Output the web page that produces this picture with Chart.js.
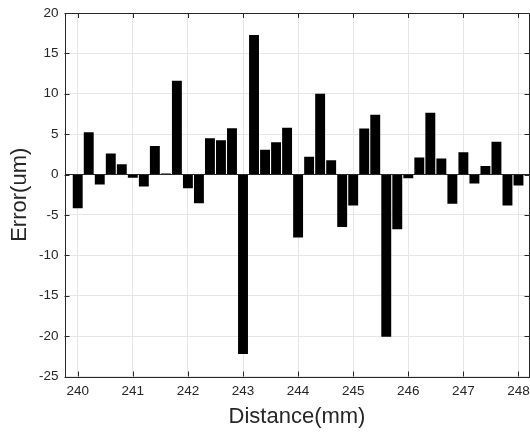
<!DOCTYPE html>
<html>
<head>
<meta charset="utf-8">
<script src="https://cdn.jsdelivr.net/npm/chart.js@4/dist/chart.umd.min.js"></script>
<style>
  html, body { margin: 0; padding: 0; background: #fff; }
  #wrap { width: 530px; height: 433px; }
</style>
</head>
<body>
<div id="wrap"><canvas id="err_chart"></canvas></div>
<script>
// measured positions (mm) and error at each one (um)
var distance = [240.0, 240.2, 240.4, 240.6, 240.8,
  241.0, 241.2, 241.4, 241.6, 241.8,
  242.0, 242.2, 242.4, 242.6, 242.8,
  243.0, 243.2, 243.4, 243.6, 243.8,
  244.0, 244.2, 244.4, 244.6, 244.8,
  245.0, 245.2, 245.4, 245.6, 245.8,
  246.0, 246.2, 246.4, 246.6, 246.8,
  247.0, 247.2, 247.4, 247.6, 247.8,
  248.0];
var error_um = [-4.17, 5.25, -1.24, 2.6, 1.28,
  -0.41, -1.49, 3.55, 0.12, 11.6,
  -1.69, -3.55, 4.5, 4.26, 5.74,
  -22.2, 17.27, 3.06, 4.0, 5.8,
  -7.8, 2.21, 10.0, 1.76, -6.48,
  -3.84, 5.7, 7.4, -20.07, -6.77,
  -0.45, 2.1, 7.65, 2.0, -3.6,
  2.77, -1.1, 1.07, 4.05, -3.84,
  -1.36];

var xTicks = [240, 241, 242, 243, 244, 245, 246, 247, 248];
var yTicks = [-25, -20, -15, -10, -5, 0, 5, 10, 15, 20];

const AXIS_COLOR = '#262626';
const GRID_COLOR = '#e6e6e6';
const TICK_LEN = 5;

// box around the plot with inward tick marks on every side
const boxPlugin = {
  id: 'box',
  afterDraw(chart) {
    const ctx = chart.ctx;
    const a = chart.chartArea;
    const xs = chart.scales.x, ys = chart.scales.y;
    ctx.save();
    ctx.strokeStyle = AXIS_COLOR;
    ctx.lineWidth = 1;
    ctx.beginPath();
    ctx.rect(Math.round(a.left) + 0.5, Math.round(a.top) + 0.5,
      Math.round(a.right) - Math.round(a.left) - 1, Math.round(a.bottom) - Math.round(a.top));
    xTicks.forEach(v => {
      let px = Math.round(xs.getPixelForValue(v)) + 0.5;
      ctx.moveTo(px, a.bottom); ctx.lineTo(px, a.bottom - TICK_LEN);
      ctx.moveTo(px, a.top); ctx.lineTo(px, a.top + TICK_LEN);
    });
    yTicks.forEach(v => {
      let py = Math.round(ys.getPixelForValue(v)) + 0.5;
      ctx.moveTo(a.left, py); ctx.lineTo(a.left + TICK_LEN, py);
      ctx.moveTo(a.right, py); ctx.lineTo(a.right - TICK_LEN, py);
    });
    ctx.stroke();
    ctx.restore();
  }
};

window.onload = () => {
  new Chart('err_chart', {
    type: 'bar',
    data: {
      datasets: [{
        data: distance.map((d, i) => ({ x: d, y: error_um[i] })),
        backgroundColor: '#000000',
        borderWidth: 0,
        barPercentage: 0.9,
        categoryPercentage: 1.0
      }]
    },
    options: {
      responsive: true,
      maintainAspectRatio: false,
      animation: false,
      layout: { padding: { top: 13, right: 0.5, left: 0, bottom: 0 } },
      plugins: { legend: { display: false }, tooltip: { enabled: false } },
      scales: {
        x: {
          type: 'linear',
          offset: false,
          min: 239.76,
          max: 248.2,
          afterBuildTicks: axis => { axis.ticks = xTicks.map(v => ({ value: v })); },
          afterFit: axis => {
            axis.height = 56.5;
            // let the last label run off the edge instead of shrinking the plot
            axis.paddingLeft = 0;
            axis.paddingRight = 0;
          },
          grid: { color: GRID_COLOR, drawTicks: false, offset: false },
          border: { display: false },
          ticks: {
            color: AXIS_COLOR, padding: 7, maxRotation: 0,
            font: { family: 'Liberation Sans', size: 13.5 },
            callback: v => String(v)
          },
          title: {
            display: true, text: 'Distance(mm)', color: AXIS_COLOR,
            font: { family: 'Liberation Sans', size: 22 },
            padding: { top: 0, bottom: 3 }
          }
        },
        y: {
          min: -25,
          max: 20,
          afterBuildTicks: axis => { axis.ticks = yTicks.map(v => ({ value: v })); },
          afterFit: axis => {
            axis.width = 64.5;
            axis.paddingTop = 0;
            axis.paddingBottom = 0;
          },
          grid: {
            color: ctx => (ctx.tick && ctx.tick.value === 0) ? AXIS_COLOR : GRID_COLOR,
            drawTicks: false
          },
          border: { display: false },
          ticks: {
            color: AXIS_COLOR, padding: 6,
            font: { family: 'Liberation Sans', size: 13.5 }
          },
          title: {
            display: true, text: 'Error(um)', color: AXIS_COLOR,
            font: { family: 'Liberation Sans', size: 22 },
            padding: { top: 7, bottom: 0 }
          }
        }
      }
    },
    plugins: [boxPlugin]
  });
};
</script>
</body>
</html>
